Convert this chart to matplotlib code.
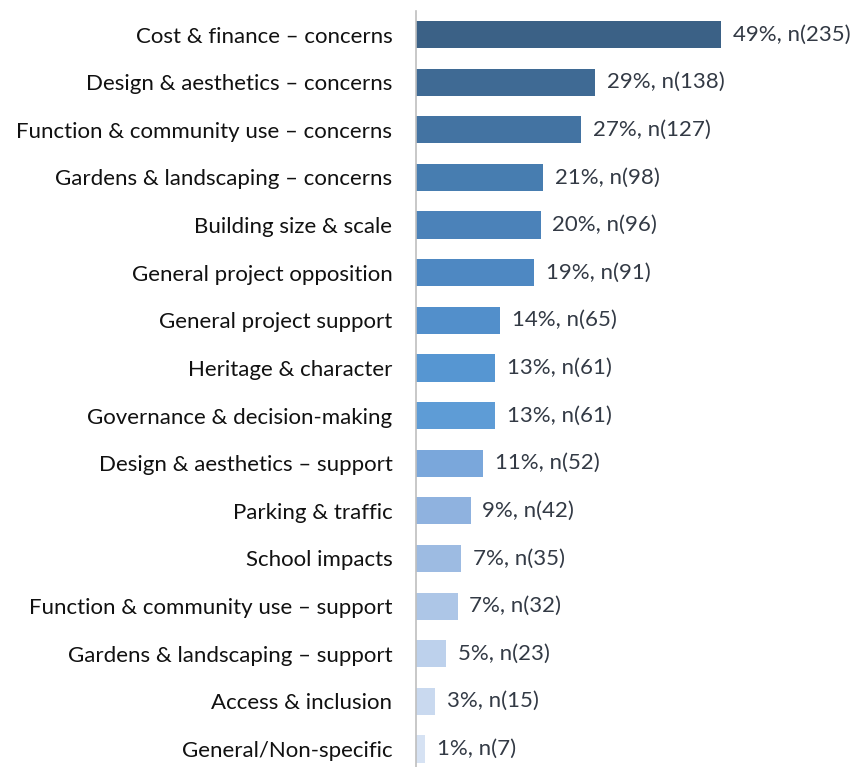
import matplotlib
matplotlib.use("Agg")
import matplotlib.pyplot as plt

categories = [
    "Cost & finance – concerns",
    "Design & aesthetics – concerns",
    "Function & community use – concerns",
    "Gardens & landscaping – concerns",
    "Building size & scale",
    "General project opposition",
    "General project support",
    "Heritage & character",
    "Governance & decision-making",
    "Design & aesthetics – support",
    "Parking & traffic",
    "School impacts",
    "Function & community use – support",
    "Gardens & landscaping – support",
    "Access & inclusion",
    "General/Non-specific",
]
counts = [235, 138, 127, 98, 96, 91, 65, 61, 61, 52, 42, 35, 32, 23, 15, 7]
percents = [49, 29, 27, 21, 20, 19, 14, 13, 13, 11, 9, 7, 7, 5, 3, 1]
colors = ["#3B6186", "#3F6A94", "#4373A2", "#477DB0", "#4B82B9", "#4E88C2",
          "#528FCB", "#5696D2", "#5E9CD6", "#7AA7DB", "#8FB2DF", "#9DBBE2",
          "#ADC6E7", "#BDD1EC", "#C9D9EF", "#D6E2F3"]

plt.rcParams['font.family'] = ['Lato', 'DejaVu Sans']

W, H = 854, 767
fig = plt.figure(figsize=(W / 100, H / 100), dpi=100)
top_px, bot_px = 10.7, 772.8
left_px, right_px = 416, 850
ax = fig.add_axes([left_px / W, 1 - bot_px / H, (right_px - left_px) / W, (bot_px - top_px) / H])

y = list(range(len(categories)))
ax.barh(y, counts, height=0.57, color=colors, edgecolor="none")
ax.set_ylim(len(categories) - 0.5, -0.5)
ax.set_xlim(0, 235 * (right_px - left_px) / 305)
ax.set_yticks(y)
ax.set_yticklabels(categories, fontsize=16, color="#111111")
ax.tick_params(axis="y", length=0, pad=17)
ax.set_xticks([])
for s in ["top", "right", "bottom"]:
    ax.spines[s].set_visible(False)
ax.spines["left"].set_color("#BFBFBF")
ax.spines["left"].set_linewidth(1.2)

for yi, c, p in zip(y, counts, percents):
    ax.annotate(f"{p}%, n({c})", xy=(c, yi), xytext=(8.5, 0), textcoords="offset points",
                va="center", ha="left", fontsize=16, color="#333A45")

fig.savefig("out.png", dpi=100)
